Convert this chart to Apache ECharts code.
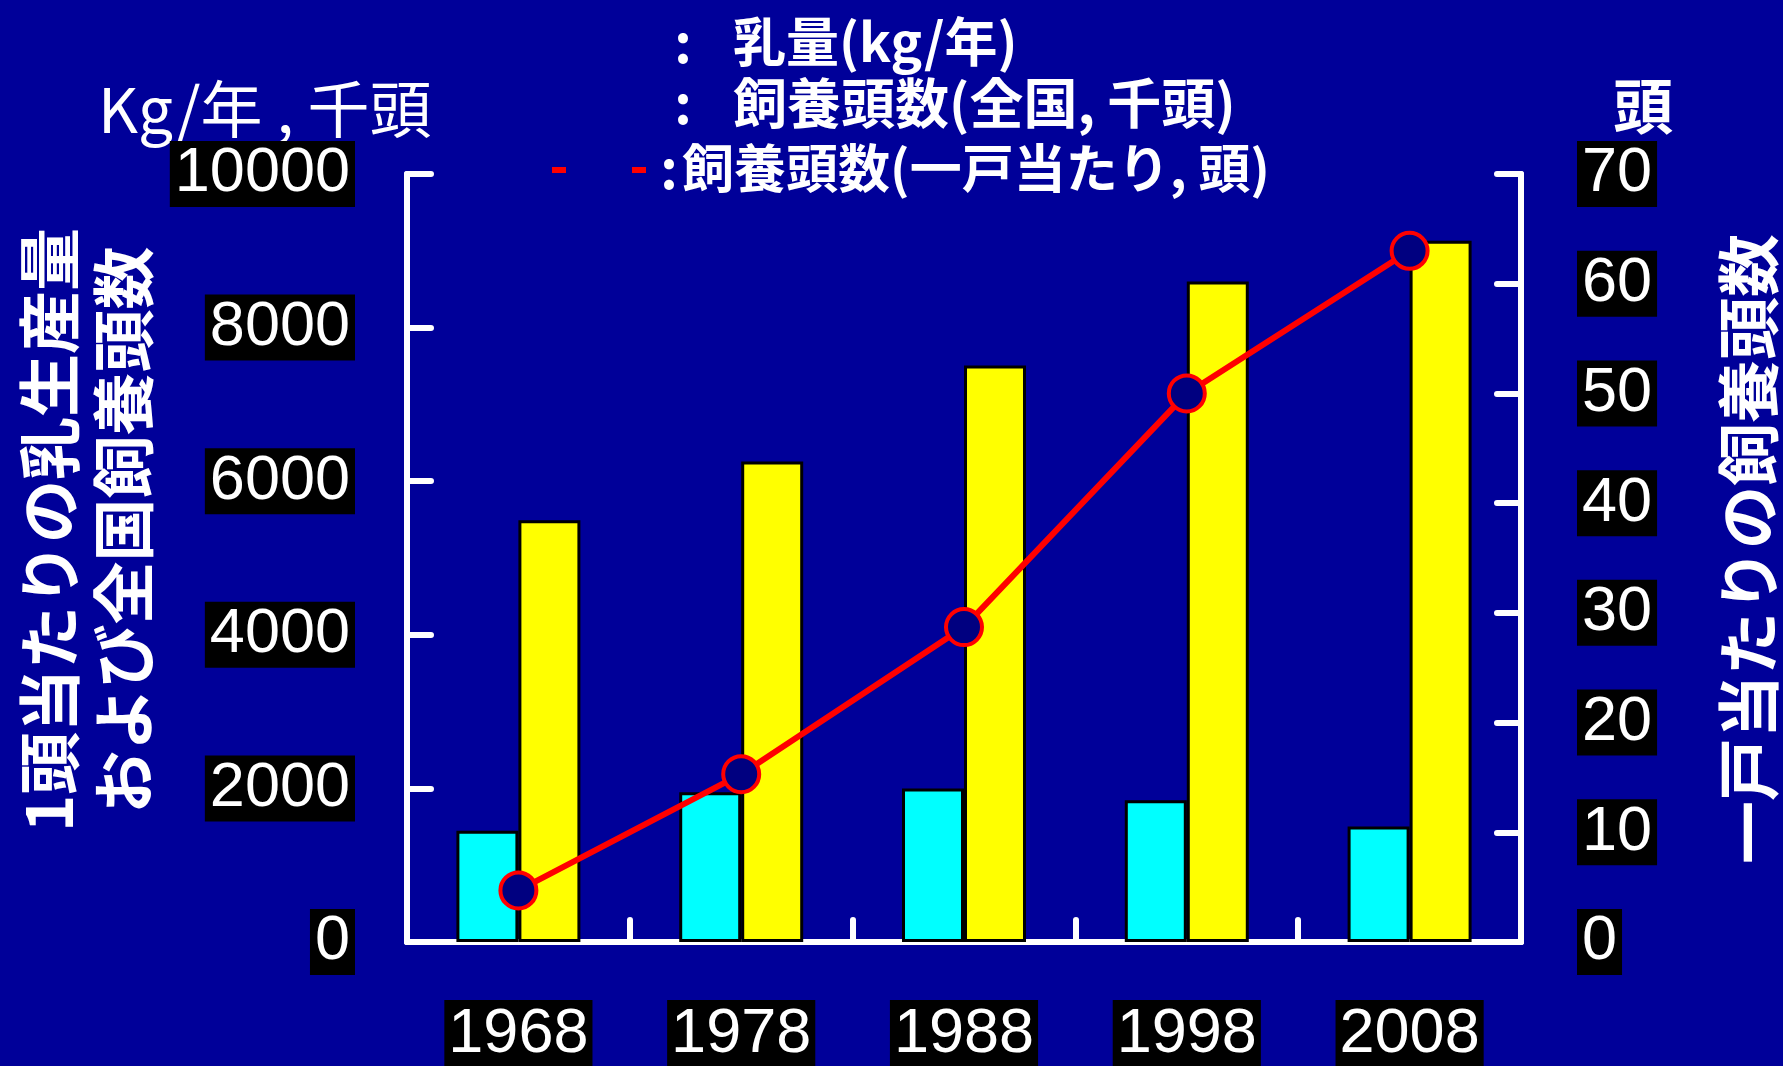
<!DOCTYPE html>
<html><head><meta charset="utf-8">
<script src="https://cdn.jsdelivr.net/npm/echarts@6/dist/echarts.min.js"></script>
<style>html,body{margin:0;padding:0;background:#000099;}#c{width:1783px;height:1066px;}</style>
</head><body><div id="c"></div>
<script>
const years = ['1968','1978','1988','1998','2008'];
const herdNational = [1450, 1950, 2000, 1845, 1505];      // 千頭 (cyan)
const milkYield = [5490, 6255, 7505, 8600, 9130];          // kg/年 (yellow)
const herdPerFarm = [4.7, 15.3, 28.7, 50.0, 63.0];         // 頭 (red line)
const leftTicks = {min: 0, max: 10000, interval: 2000};
const rightTicks = {min: 0, max: 70, interval: 10};

const NUM = '"Liberation Sans", Arial, sans-serif';
const JP = '"Noto Sans CJK JP", "Noto Sans", sans-serif';
const chart = echarts.init(document.getElementById('c'));
const lblBase = {color:'#fff', fontSize:63, fontFamily:NUM, backgroundColor:'#000', padding:[3,5,0,5],
  formatter: v => String(v)};
chart.setOption({
  backgroundColor:'#000099',
  animation:false,
  grid:{left:407, right:262, top:174, bottom:121, containLabel:false},
  xAxis:{type:'category', data:years, boundaryGap:true,
    axisLine:{show:true, lineStyle:{color:'#fff', width:6, cap:'round'}},
    axisTick:{show:true, inside:true, length:22, interval:0, lineStyle:{color:'#fff', width:6, cap:'round'}},
    axisLabel:Object.assign({}, lblBase, {margin:58, interval:0, padding:[3,4,0,4]}),
    splitLine:{show:false}},
  yAxis:[
    {type:'value', min:leftTicks.min, max:leftTicks.max, interval:leftTicks.interval, position:'left',
     axisLine:{show:true, lineStyle:{color:'#fff', width:6, cap:'round'}},
     axisTick:{show:true, inside:true, length:24, lineStyle:{color:'#fff', width:6, cap:'round'}},
     axisLabel:Object.assign({}, lblBase, {margin:52}),
     splitLine:{show:false}},
    {type:'value', min:rightTicks.min, max:rightTicks.max, interval:rightTicks.interval, position:'right',
     axisLine:{show:true, lineStyle:{color:'#fff', width:6, cap:'round'}},
     axisTick:{show:true, inside:true, length:24, lineStyle:{color:'#fff', width:6, cap:'round'}},
     axisLabel:Object.assign({}, lblBase, {margin:56}),
     splitLine:{show:false}}
  ],
  series:[
    {name:'飼養頭数(全国, 千頭)', type:'bar', data:herdNational, yAxisIndex:0,
     barWidth:62, barGap:'0%',
     itemStyle:{color:'#00FFFF', borderColor:'#000', borderWidth:3}},
    {name:'乳量(kg/年)', type:'bar', data:milkYield, yAxisIndex:0,
     barWidth:62, barGap:'0%',
     itemStyle:{color:'#FFFF00', borderColor:'#000', borderWidth:3}},
    {name:'飼養頭数(一戸当たり, 頭)', type:'line', data:herdPerFarm, yAxisIndex:1,
     symbol:'circle', symbolSize:36, z:5,
     lineStyle:{color:'#FF0000', width:6},
     itemStyle:{color:'#000080', borderColor:'#FF0000', borderWidth:4}}
  ],
  graphic:[
    {type:'text', left:98, top:78, style:{text:'Kg/年 , 千頭', fill:'#fff', font:'normal 62px '+JP}},
    {type:'text', x:1643, y:106, style:{text:'頭', fill:'#fff', font:'bold 60px '+JP, align:'center', verticalAlign:'middle'}},
    {type:'text', x:86, y:530, rotation:Math.PI/2,
     style:{text:'1頭当たりの乳生産量\nおよび全国飼養頭数', fill:'#fff', font:'bold 63px '+JP, lineHeight:74, align:'center', verticalAlign:'middle'}},
    {type:'text', x:1748, y:549, rotation:Math.PI/2,
     style:{text:'一戸当たりの飼養頭数', fill:'#fff', font:'bold 63px '+JP, align:'center', verticalAlign:'middle'}},
    {type:'text', x:683, y:42, style:{text:':', fill:'#fff', font:'bold 54px '+JP, align:'center', verticalAlign:'middle'}},
    {type:'text', x:733, y:42, style:{text:'乳量(kg/年)', fill:'#fff', font:'bold 53px '+JP, align:'left', verticalAlign:'middle'}},
    {type:'text', x:683, y:103, style:{text:':', fill:'#fff', font:'bold 54px '+JP, align:'center', verticalAlign:'middle'}},
    {type:'text', x:733, y:103, style:{text:'飼養頭数(全国, 千頭)', fill:'#fff', font:'bold 54px '+JP, align:'left', verticalAlign:'middle'}},
    {type:'rect', shape:{x:552, y:167, width:14, height:6}, style:{fill:'#FF0000'}},
    {type:'rect', shape:{x:632, y:167, width:14, height:6}, style:{fill:'#FF0000'}},
    {type:'text', x:669, y:168, style:{text:':', fill:'#fff', font:'bold 54px '+JP, align:'center', verticalAlign:'middle'}},
    {type:'text', x:682, y:168, style:{text:'飼養頭数(一戸当たり, 頭)', fill:'#fff', font:'bold 52px '+JP, align:'left', verticalAlign:'middle'}}
  ]
});
</script></body></html>
